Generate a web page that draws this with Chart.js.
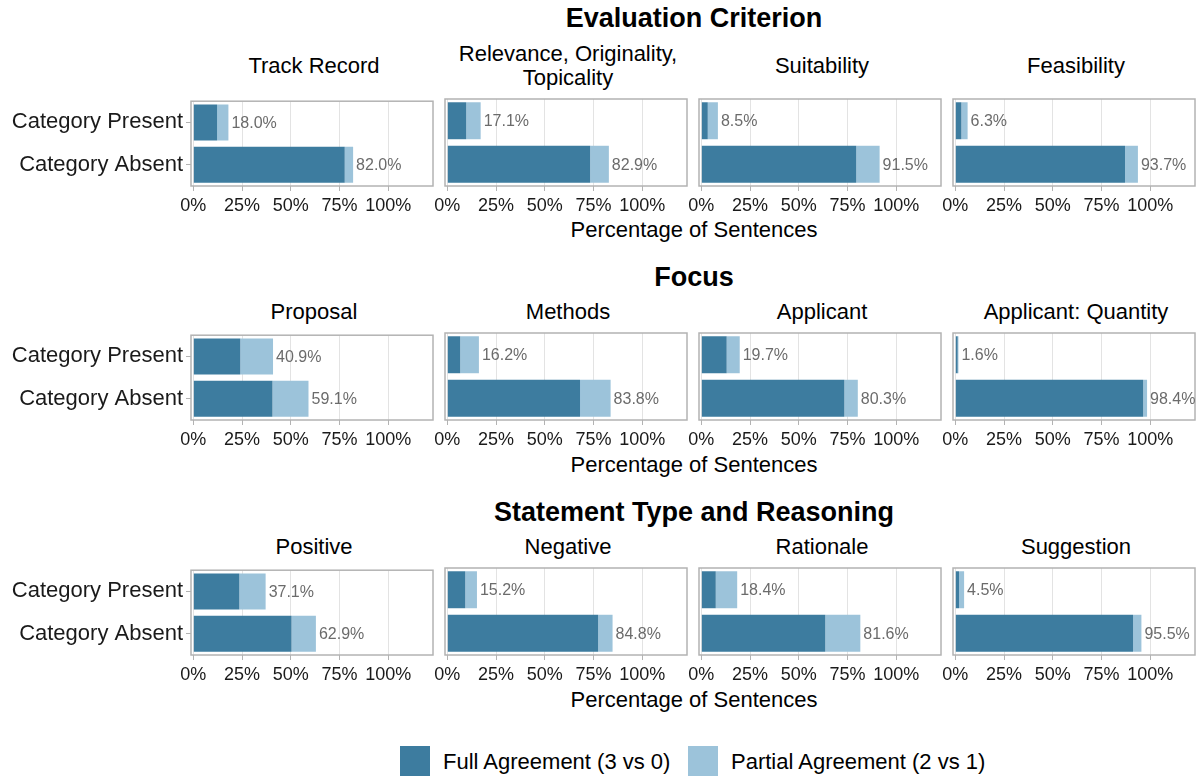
<!DOCTYPE html>
<html>
<head>
<meta charset="utf-8">
<script src="https://cdn.jsdelivr.net/npm/chart.js@4"></script>
<style>
body { margin: 0; width: 1196px; height: 779px; position: relative; background: #fff; overflow: hidden;
       font-family: "Liberation Sans", Arial, sans-serif; color: #000; }
canvas { position: absolute; }
.t { position: absolute; transform: translate(-50%, -50%); white-space: nowrap; text-align: center;
     font-size: 22px; line-height: 24px; }
.sec { font-weight: bold; font-size: 27px; }
.key { position: absolute; width: 30px; height: 30px; }
.keytxt { position: absolute; font-size: 22px; line-height: 24px; transform: translateY(-50%); white-space: nowrap; }
</style>
</head>
<body>
<script>
const sectionTitles = ['Evaluation Criterion', 'Focus', 'Statement Type and Reasoning'];
const panelTitles = [
    ['Track Record', 'Relevance, Originality,\nTopicality', 'Suitability', 'Feasibility'],
    ['Proposal', 'Methods', 'Applicant', 'Applicant: Quantity'],
    ['Positive', 'Negative', 'Rationale', 'Suggestion']
];
const categories = ['Category Present', 'Category Absent'];
const xTicks = [0, 25, 50, 75, 100];
const legendLabels = ['Full Agreement (3 vs 0)', 'Partial Agreement (2 vs 1)'];

// [present, absent] per panel, row by row
const fullAgreement = [
    [12.2, 77.7], [9.7, 73.3], [3.3, 79.5], [3.1, 87.1],
    [24.1, 40.6], [6.6, 68.1], [13.0, 73.4], [1.2, 96.4],
    [23.6, 50.4], [9.2, 77.4], [7.4, 63.6], [1.9, 91.2]
];
const partialAgreement = [
    [5.8, 4.3], [7.4, 9.6], [5.2, 12.0], [3.2, 6.6],
    [16.8, 18.5], [9.6, 15.7], [6.7, 6.9], [0.4, 2.0],
    [13.5, 12.5], [6.0, 7.4], [11.0, 18.0], [2.6, 4.3]
];

const colLeft = [191, 445, 699, 953];
const rowTop = [99, 333, 568];
const plotW = 242, plotH = 87;
const padTop = 14, padSide = 16;
const darkBlue = '#3d7c9f', lightBlue = '#9cc3da';
const fontFam = '"Liberation Sans", Arial, sans-serif';

// grey box round each panel
const panelBox = {
    id: 'panelBox',
    afterDatasetsDraw(chart) {
        const a = chart.chartArea, ctx = chart.ctx;
        ctx.save();
        ctx.strokeStyle = '#b3b3b3';
        ctx.lineWidth = 1.5;
        ctx.strokeRect(a.left, a.top, a.right - a.left, a.bottom - a.top);
        ctx.restore();
    }
};

// total % written after each stacked bar
const totalLabels = {
    id: 'totalLabels',
    afterDatasetsDraw(chart) {
        const ctx = chart.ctx;
        const meta = chart.getDatasetMeta(1);
        const d0 = chart.data.datasets[0].data, d1 = chart.data.datasets[1].data;
        ctx.save();
        ctx.font = '16px ' + fontFam;
        ctx.fillStyle = '#6b6b6b';
        ctx.textAlign = 'left';
        ctx.textBaseline = 'middle';
        meta.data.forEach((bar, i) => {
            ctx.fillText((d0[i] + d1[i]).toFixed(1) + '%', bar.x + 3, bar.y + 1);
        });
        ctx.restore();
    }
};

function addText(txt, x, y, cls) {
    const d = document.createElement('div');
    d.className = 't' + (cls ? ' ' + cls : '');
    d.style.left = x + 'px';
    d.style.top = y + 'px';
    d.innerHTML = txt.replace('\n', '<br>');
    document.body.appendChild(d);
}

function makePanel(r, c) {
    const idx = r * 4 + c;
    const first = c === 0;
    const padL = first ? 0 : padSide;
    const yw = first ? 191 : 0;
    const canvas = document.createElement('canvas');
    const w = first ? 191 + plotW + 10 : plotW + 2 * padSide;
    const h = padTop + plotH + 32;
    canvas.width = w;
    canvas.height = h;
    canvas.style.left = (first ? 0 : colLeft[c] - padSide) + 'px';
    canvas.style.top = (rowTop[r] - padTop) + 'px';
    document.body.appendChild(canvas);

    new Chart(canvas.getContext('2d'), {
        type: 'bar',
        data: {
            labels: categories,
            datasets: [
                { label: legendLabels[0], data: fullAgreement[idx], backgroundColor: darkBlue },
                { label: legendLabels[1], data: partialAgreement[idx], backgroundColor: lightBlue }
            ]
        },
        options: {
            indexAxis: 'y',
            responsive: false,
            animation: false,
            layout: { padding: { left: padL, right: first ? 10 : padSide, top: padTop, bottom: 0 } },
            datasets: { bar: { barPercentage: 0.85, categoryPercentage: 1 } },
            plugins: { legend: { display: false }, tooltip: { enabled: false } },
            scales: {
                x: {
                    stacked: true,
                    min: -1.2,
                    max: 123,
                    afterBuildTicks: s => { s.ticks = xTicks.map(v => ({ value: v })); },
                    afterFit: s => { s.height = 32; },
                    ticks: {
                        autoSkip: false,
                        maxRotation: 0,
                        padding: 4,
                        color: '#1a1a1a',
                        font: { family: fontFam, size: 18 },
                        callback: v => v + '%'
                    },
                    grid: { color: '#e3e3e3', lineWidth: 1, tickLength: 5, tickColor: '#b3b3b3' },
                    border: { display: false }
                },
                y: {
                    stacked: true,
                    display: first,
                    afterFit: s => { s.width = yw; },
                    ticks: { padding: 3, color: '#1a1a1a', font: { family: fontFam, size: 22 } },
                    grid: { offset: false, drawOnChartArea: false, tickLength: 5, tickColor: '#b3b3b3' },
                    border: { display: false }
                }
            }
        },
        plugins: [panelBox, totalLabels]
    });
}

const sectionY = [18, 277, 512];
const stripY = [66, 312, 547];
const axisTitleY = [230, 465, 700];
for (let r = 0; r < 3; r++) {
    addText(sectionTitles[r], 694, sectionY[r], 'sec');
    addText('Percentage of Sentences', 694, axisTitleY[r]);
    for (let c = 0; c < 4; c++) {
        addText(panelTitles[r][c], colLeft[c] + plotW / 2 + 2, stripY[r]);
        makePanel(r, c);
    }
}

// legend
[[400, darkBlue, 443, legendLabels[0]], [688, lightBlue, 731, legendLabels[1]]].forEach(([kx, col, tx, txt]) => {
    const k = document.createElement('div');
    k.className = 'key';
    k.style.left = kx + 'px';
    k.style.top = '746px';
    k.style.background = col;
    document.body.appendChild(k);
    const t = document.createElement('div');
    t.className = 'keytxt';
    t.style.left = tx + 'px';
    t.style.top = '762px';
    t.textContent = txt;
    document.body.appendChild(t);
});
</script>
</body>
</html>
